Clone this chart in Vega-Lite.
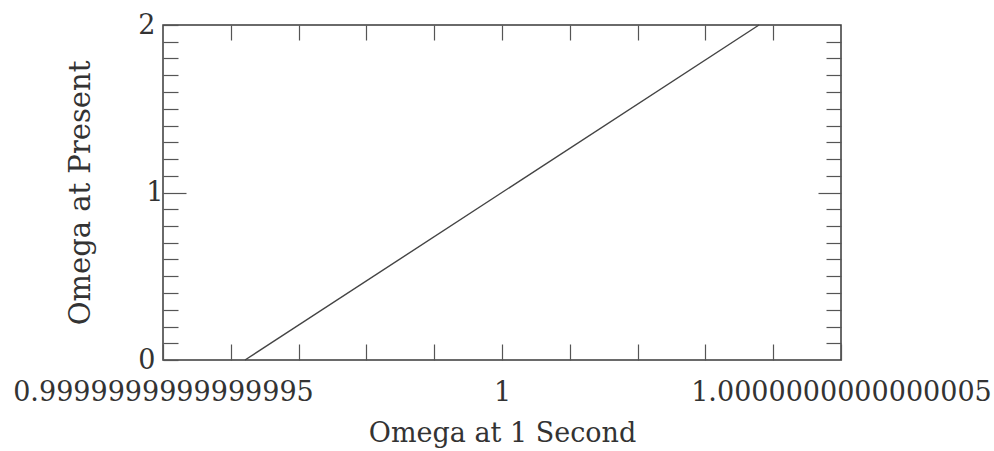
{
  "$schema": "https://vega.github.io/schema/vega-lite/v6.json",
  "autosize": "none",
  "width": 678,
  "height": 335,
  "padding": {"left": 163, "top": 25, "right": 153, "bottom": 91},
  "background": "white",
  "config": {
    "view": {"stroke": "#3a3a3a", "strokeWidth": 1.5},
    "axis": {
      "labelFont": "DejaVu Serif",
      "titleFont": "DejaVu Serif",
      "labelColor": "#333333",
      "titleColor": "#333333",
      "titleFontWeight": "normal",
      "tickColor": "#555555",
      "tickWidth": 1.2,
      "labelLimit": 0,
      "domain": false,
      "grid": false
    }
  },
  "data": {
    "values": [
      {"omega1s": -3.79, "omegaNow": 0},
      {"omega1s": 3.79, "omegaNow": 2}
    ]
  },
  "layer": [
    {
      "mark": {"type": "line", "color": "#444444", "strokeWidth": 1.4},
      "encoding": {
        "x": {
          "field": "omega1s",
          "type": "quantitative",
          "scale": {"domain": [-5, 5], "nice": false, "zero": false},
          "axis": {
            "orient": "bottom",
            "title": "Omega at 1 Second",
            "titleFontSize": 27,
            "titlePadding": 15,
            "values": [-5, -4, -3, -2, -1, 0, 1, 2, 3, 4, 5],
            "labelExpr": "datum.value == -5 ? '0.9999999999999995' : datum.value == 0 ? '1' : datum.value == 5 ? '1.0000000000000005' : ''",
            "labelFontSize": 27,
            "labelFlush": false,
            "labelOverlap": false,
            "labelBound": false,
            "labelPadding": 35,
            "tickSize": -16
          }
        },
        "y": {
          "field": "omegaNow",
          "type": "quantitative",
          "scale": {"domain": [0, 2], "nice": false},
          "axis": {
            "orient": "left",
            "title": "Omega at Present",
            "titleFontSize": 29,
            "titlePadding": 42,
            "values": [0, 0.1, 0.2, 0.3, 0.4, 0.5, 0.6, 0.7, 0.8, 0.9, 1, 1.1, 1.2, 1.3, 1.4, 1.5, 1.6, 1.7, 1.8, 1.9, 2],
            "labelExpr": "datum.value == 0 ? '0' : datum.value == 1 ? '1' : datum.value == 2 ? '2' : ''",
            "labelFontSize": 27,
            "labelFlush": false,
            "labelOverlap": false,
            "labelBound": false,
            "labelPadding": 23,
            "tickSize": {"condition": {"test": "datum.value == 1", "value": -23}, "value": -15}
          }
        }
      }
    },
    {
      "mark": {"type": "line", "strokeOpacity": 0},
      "encoding": {
        "x": {
          "field": "omega1s",
          "type": "quantitative",
          "scale": {"domain": [-5, 5], "nice": false, "zero": false},
          "axis": {
            "orient": "top",
            "title": null,
            "values": [-4, -3, -2, -1, 0, 1, 2, 3, 4],
            "labels": false,
            "tickSize": -15
          }
        },
        "y": {
          "field": "omegaNow",
          "type": "quantitative",
          "scale": {"domain": [0, 2], "nice": false},
          "axis": {
            "orient": "right",
            "title": null,
            "values": [0.1, 0.2, 0.3, 0.4, 0.5, 0.6, 0.7, 0.8, 0.9, 1, 1.1, 1.2, 1.3, 1.4, 1.5, 1.6, 1.7, 1.8, 1.9],
            "labels": false,
            "tickSize": {"condition": {"test": "datum.value == 1", "value": -23}, "value": -15}
          }
        }
      }
    }
  ],
  "resolve": {"axis": {"x": "independent", "y": "independent"}}
}
